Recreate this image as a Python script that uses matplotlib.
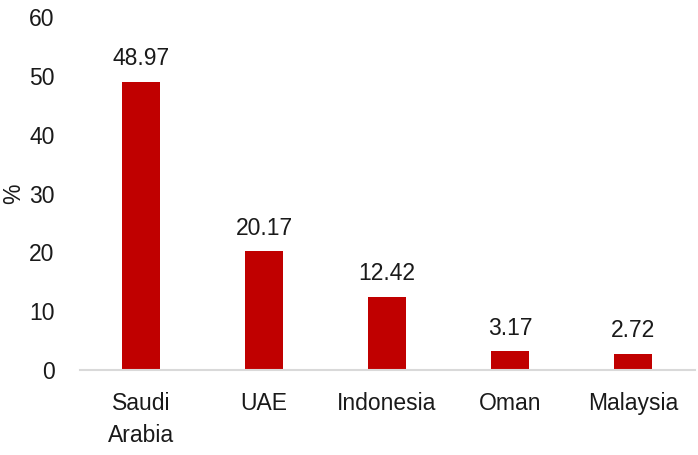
import matplotlib
matplotlib.use("Agg")
import matplotlib.pyplot as plt

countries = ["Saudi\nArabia", "UAE", "Indonesia", "Oman", "Malaysia"]
shares = [48.97, 20.17, 12.42, 3.17, 2.72]
yticks = [0, 10, 20, 30, 40, 50, 60]

plt.rcParams['font.family'] = ['Liberation Sans', 'DejaVu Sans']
fs = 16.5

fig = plt.figure(figsize=(6.98, 4.55), dpi=100)
ax = fig.add_axes([0.1139, 0.1868, 0.8811, 0.7758])

x = range(len(countries))
bars = ax.bar(x, shares, width=0.31, color="#C00000")

for xi, v in zip(x, shares):
    ax.annotate(f"{v:.2f}", (xi, v), xytext=(0, 8.5), textcoords="offset points",
                ha="center", va="bottom", fontsize=fs, color="#1a1a1a")

ax.set_xlim(-0.5, len(countries) - 0.5)
ax.set_ylim(0, 60)
ax.set_yticks(yticks)
ax.set_xticks(list(x))
ax.set_xticklabels(countries, linespacing=1.5)
ax.tick_params(axis="y", length=0, pad=18, labelsize=fs, labelcolor="#1a1a1a")
ax.tick_params(axis="x", length=0, pad=16, labelsize=fs, labelcolor="#1a1a1a")

for s in ["top", "right", "left"]:
    ax.spines[s].set_visible(False)
ax.spines["bottom"].set_color("#D9D9D9")
ax.spines["bottom"].set_linewidth(1.5)

ax.set_ylabel("%", fontsize=fs, color="#1a1a1a", labelpad=3)

fig.savefig("out.png", dpi=100)
